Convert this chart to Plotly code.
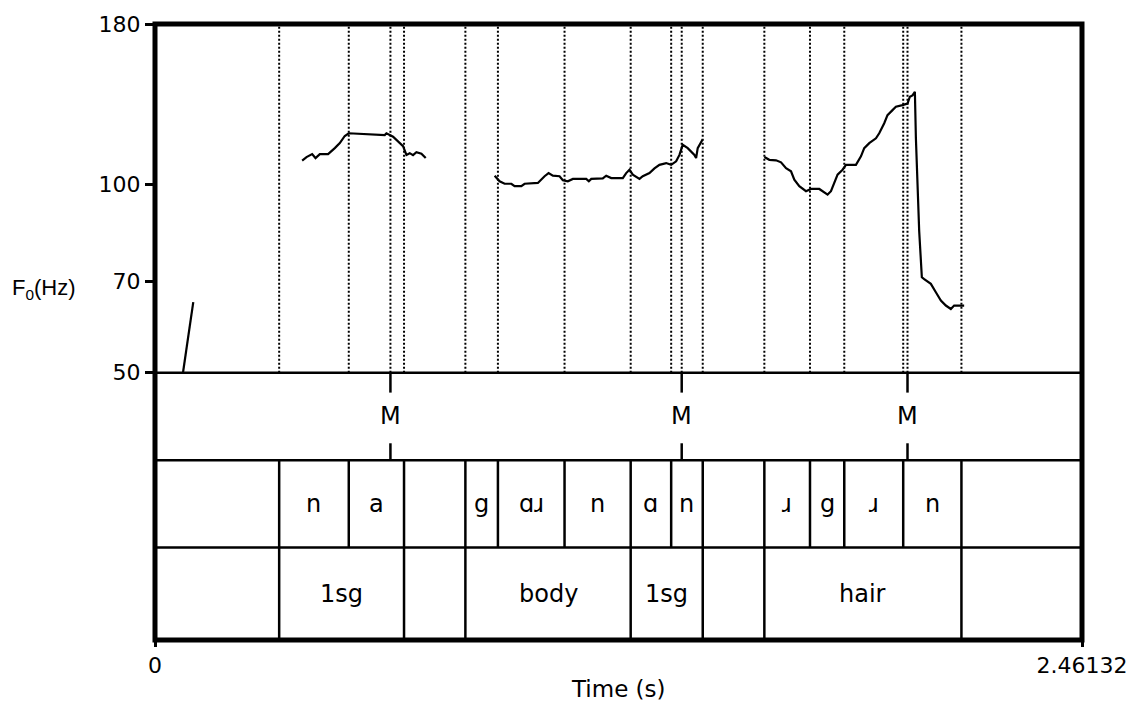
import plotly.graph_objects as go
import math

# ---------------- data ----------------
T_END = 2.46132
F_MIN, F_MAX = 50, 180
f0_ticks = [50, 70, 100, 180]

# pitch contour, four voiced stretches (time in s, F0 in Hz)
seg1_t = [0.0743, 0.0796, 0.0867, 0.0947, 0.1016]
seg1_f = [50.0, 52.6, 57.0, 61.8, 64.8]

seg2_t = [0.3907, 0.4023, 0.4172, 0.4262, 0.4376, 0.4596, 0.4774, 0.4907, 0.5039,
          0.5145, 0.6100, 0.6145, 0.6321, 0.6453, 0.6586, 0.6676, 0.6763, 0.6851,
          0.6941, 0.7074, 0.7188]
seg2_f = [109.0, 110.4, 111.6, 110.0, 111.6, 111.6, 114.1, 116.2, 119.3,
          120.5, 119.7, 120.5, 119.0, 116.9, 114.9, 111.3, 112.0, 111.2,
          112.4, 111.8, 110.0]

seg3_t = [0.9018, 0.9150, 0.9283, 0.9461, 0.9548, 0.9726, 0.9814, 1.0166, 1.0344,
          1.0450, 1.0564, 1.0742, 1.0829, 1.0962, 1.1095, 1.1450, 1.1519, 1.1583,
          1.1890, 1.1980, 1.2113, 1.2421, 1.2511, 1.2598, 1.2686, 1.2864, 1.2951,
          1.3129, 1.3262, 1.3394, 1.3572, 1.3704, 1.3837, 1.3925, 1.4012, 1.4145,
          1.4322, 1.4367, 1.4410, 1.4500, 1.4543]
seg3_f = [103.1, 101.0, 100.1, 100.1, 99.2, 99.2, 100.1, 100.4, 102.9,
          104.1, 103.1, 102.9, 101.4, 101.0, 101.9, 101.9, 101.0, 101.9,
          102.1, 103.1, 102.2, 102.2, 104.1, 105.4, 103.5, 101.9, 102.9,
          104.1, 105.9, 107.3, 108.0, 107.3, 108.7, 111.3, 115.5, 114.1,
          111.3, 110.0, 114.1, 116.9, 117.9]

seg4_t = [1.6179, 1.6312, 1.6489, 1.6622, 1.6755, 1.6887, 1.6975, 1.7107, 1.7285,
          1.7418, 1.7638, 1.7770, 1.7858, 1.7948, 1.8036, 1.8123, 1.8256, 1.8346,
          1.8611, 1.8744, 1.8831, 1.8964, 1.9142, 1.9229, 1.9362, 1.9449, 1.9582,
          1.9672, 1.9847, 1.9980, 2.0043, 2.0112, 2.0176, 2.0203, 2.0290, 2.0361,
          2.0423, 2.0600, 2.0733, 2.0866, 2.0998, 2.1131, 2.1218, 2.1484]
seg4_f = [110.4, 109.3, 109.1, 108.3, 106.0, 104.8, 101.6, 99.2, 97.4,
          98.2, 98.2, 96.8, 96.2, 97.4, 100.4, 103.5, 105.4, 107.3,
          107.3, 110.7, 114.1, 116.2, 118.3, 120.5, 125.0, 128.8, 131.2,
          132.8, 133.6, 134.4, 137.8, 138.5, 140.3, 118.3, 84.2, 71.0,
          70.5, 69.3, 67.2, 65.2, 64.0, 63.2, 64.0, 64.0]

# point tier
point_times = [0.6251, 1.3985, 1.9980]
point_labels = ["M", "M", "M"]

# phone tier (boundaries, and one label per interval)
phone_bounds = [0.3297, 0.5145, 0.6612, 0.8241, 0.9105, 1.0874, 1.2630, 1.3705,
                1.4543, 1.6179, 1.7391, 1.8301, 1.9866, 2.1412]
phone_labels = ["", "n", "a", "", "g", "ɑɹ", "n", "ɑ", "n", "", "ɹ", "g", "ɹ", "n", ""]

# word tier
word_bounds = [0.3297, 0.6612, 0.8241, 1.2630, 1.4543, 1.6179, 2.1412]
word_labels = ["", "1sg", "", "body", "1sg", "", "hair", ""]

# ---------------- layout helpers (paper fractions) ----------------
H = 620.0
P_PITCH_BOT = (640 - 371) / H
P_T1_BOT = (640 - 459) / H
P_T2_BOT = (640 - 547) / H
TICK_TOP = 20 / H
TICK_BOT = 17 / H

TIER_FONT = dict(family="DejaVu Sans", size=24, color="black")

fig = go.Figure()
for tt, ff in [(seg1_t, seg1_f), (seg2_t, seg2_f), (seg3_t, seg3_f), (seg4_t, seg4_f)]:
    fig.add_trace(go.Scatter(x=tt, y=ff, mode="lines",
                             line=dict(color="black", width=2.2),
                             hoverinfo="skip", showlegend=False))

shapes = []
annotations = []

# dotted lines in the pitch panel at every boundary and point
for t in sorted(set(phone_bounds) | set(word_bounds) | set(point_times)):
    shapes.append(dict(type="line", xref="x", yref="paper", x0=t, x1=t,
                       y0=P_PITCH_BOT, y1=1, layer="below",
                       line=dict(color="black", width=2, dash="2px,2px")))

# horizontal separators
for yv, w in [(P_PITCH_BOT, 2.5), (P_T1_BOT, 2.5), (P_T2_BOT, 2.5)]:
    shapes.append(dict(type="line", xref="paper", yref="paper", x0=0, x1=1,
                       y0=yv, y1=yv, line=dict(color="black", width=w)))

# point tier marks
for t, lab in zip(point_times, point_labels):
    shapes.append(dict(type="line", xref="x", yref="paper", x0=t, x1=t,
                       y0=P_PITCH_BOT - TICK_TOP, y1=P_PITCH_BOT,
                       line=dict(color="black", width=2.5)))
    shapes.append(dict(type="line", xref="x", yref="paper", x0=t, x1=t,
                       y0=P_T1_BOT, y1=P_T1_BOT + TICK_BOT,
                       line=dict(color="black", width=2.5)))
    annotations.append(dict(x=t, y=(P_PITCH_BOT + P_T1_BOT) / 2, xref="x", yref="paper",
                            text=lab, showarrow=False, font=TIER_FONT,
                            xanchor="center", yanchor="middle"))


def interval_tier(bounds, labels, y_bot, y_top):
    edges = [0.0] + list(bounds) + [T_END]
    for b in bounds:
        shapes.append(dict(type="line", xref="x", yref="paper", x0=b, x1=b,
                           y0=y_bot, y1=y_top, line=dict(color="black", width=2.5)))
    for i, lab in enumerate(labels):
        if lab:
            annotations.append(dict(x=(edges[i] + edges[i + 1]) / 2, y=(y_bot + y_top) / 2,
                                    xref="x", yref="paper", text=lab, showarrow=False,
                                    font=TIER_FONT, xanchor="center", yanchor="middle"))


interval_tier(phone_bounds, phone_labels, P_T2_BOT, P_T1_BOT)
interval_tier(word_bounds, word_labels, 0, P_T2_BOT)

# outer frame
shapes.append(dict(type="rect", xref="paper", yref="paper", x0=0, x1=1, y0=0, y1=1,
                   line=dict(color="black", width=5)))

# axis titles
annotations.append(dict(x=(10 - 155) / 928.0, y=(640 - 287) / H, xref="paper", yref="paper",
                        text="F<sub>0</sub>(Hz)", showarrow=False,
                        font=dict(family="Liberation Sans", size=22, color="black"),
                        xanchor="left", yanchor="middle"))
annotations.append(dict(x=0.5, y=(640 - 689) / H, xref="paper", yref="paper",
                        text="Time (s)", showarrow=False,
                        font=dict(family="DejaVu Sans", size=23, color="black"),
                        xanchor="center", yanchor="middle"))

TICK_FONT = dict(family="DejaVu Sans", size=22, color="black")

fig.update_layout(
    width=1139, height=709,
    margin=dict(l=155, r=56, t=20, b=69),
    paper_bgcolor="white", plot_bgcolor="white",
    showlegend=False,
    shapes=shapes, annotations=annotations,
    xaxis=dict(range=[0, T_END], anchor="free", position=0,
               tickvals=[0, T_END], ticktext=["0", "2.46132"],
               ticks="outside", ticklen=6, tickwidth=3, tickcolor="black",
               showgrid=False, zeroline=False, showline=False,
               tickfont=TICK_FONT, fixedrange=True),
    yaxis=dict(type="log", domain=[P_PITCH_BOT, 1],
               range=[math.log10(F_MIN), math.log10(F_MAX)],
               tickvals=f0_ticks, ticktext=[str(v) for v in f0_ticks],
               ticks="outside", ticklen=9, tickwidth=3, tickcolor="black",
               showgrid=False, zeroline=False, showline=False,
               tickfont=TICK_FONT, fixedrange=True),
)

fig.write_html("out.html")
